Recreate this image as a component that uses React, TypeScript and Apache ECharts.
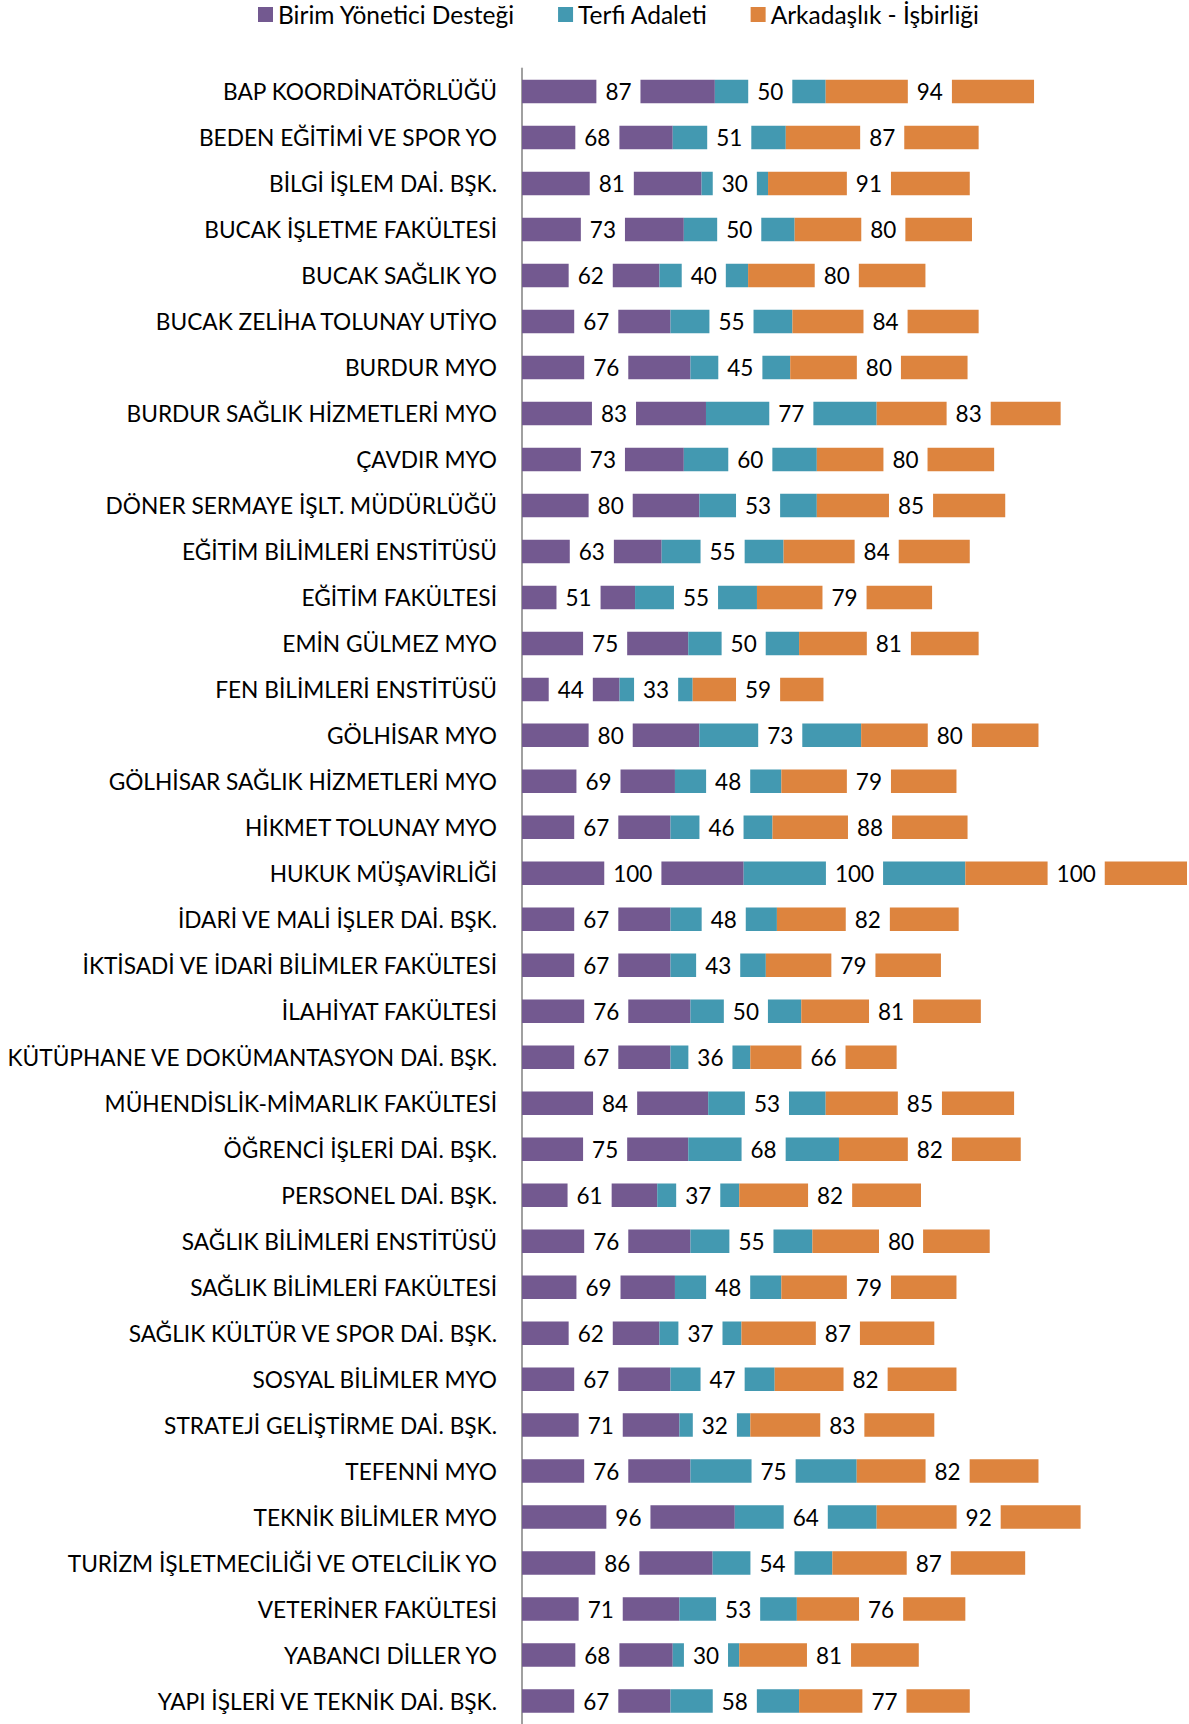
import React, { useEffect, useRef } from "react";
import * as echarts from "echarts";

const categories = [
  "BAP KOORDİNATÖRLÜĞÜ",
  "BEDEN EĞİTİMİ VE SPOR YO",
  "BİLGİ İŞLEM DAİ. BŞK.",
  "BUCAK İŞLETME FAKÜLTESİ",
  "BUCAK SAĞLIK YO",
  "BUCAK ZELİHA TOLUNAY UTİYO",
  "BURDUR MYO",
  "BURDUR SAĞLIK HİZMETLERİ MYO",
  "ÇAVDIR MYO",
  "DÖNER SERMAYE İŞLT. MÜDÜRLÜĞÜ",
  "EĞİTİM BİLİMLERİ ENSTİTÜSÜ",
  "EĞİTİM FAKÜLTESİ",
  "EMİN GÜLMEZ MYO",
  "FEN BİLİMLERİ ENSTİTÜSÜ",
  "GÖLHİSAR MYO",
  "GÖLHİSAR SAĞLIK HİZMETLERİ MYO",
  "HİKMET TOLUNAY MYO",
  "HUKUK MÜŞAVİRLİĞİ",
  "İDARİ VE MALİ İŞLER DAİ. BŞK.",
  "İKTİSADİ VE İDARİ BİLİMLER FAKÜLTESİ",
  "İLAHİYAT FAKÜLTESİ",
  "KÜTÜPHANE VE DOKÜMANTASYON DAİ. BŞK.",
  "MÜHENDİSLİK-MİMARLIK FAKÜLTESİ",
  "ÖĞRENCİ İŞLERİ DAİ. BŞK.",
  "PERSONEL DAİ. BŞK.",
  "SAĞLIK BİLİMLERİ ENSTİTÜSÜ",
  "SAĞLIK BİLİMLERİ FAKÜLTESİ",
  "SAĞLIK KÜLTÜR VE SPOR DAİ. BŞK.",
  "SOSYAL BİLİMLER MYO",
  "STRATEJİ GELİŞTİRME DAİ. BŞK.",
  "TEFENNİ MYO",
  "TEKNİK BİLİMLER MYO",
  "TURİZM İŞLETMECİLİĞİ VE OTELCİLİK YO",
  "VETERİNER FAKÜLTESİ",
  "YABANCI DİLLER YO",
  "YAPI İŞLERİ VE TEKNİK DAİ. BŞK.",
];

const birimYoneticiDestegi = [
  87, 68, 81, 73, 62, 67, 76, 83, 73, 80, 63, 51, 75, 44, 80, 69, 67, 100,
  67, 67, 76, 67, 84, 75, 61, 76, 69, 62, 67, 71, 76, 96, 86, 71, 68, 67,
];

const terfiAdaleti = [
  50, 51, 30, 50, 40, 55, 45, 77, 60, 53, 55, 55, 50, 33, 73, 48, 46, 100,
  48, 43, 50, 36, 53, 68, 37, 55, 48, 37, 47, 32, 75, 64, 54, 53, 30, 58,
];

const arkadaslikIsbirligi = [
  94, 87, 91, 80, 80, 84, 80, 83, 80, 85, 84, 79, 81, 59, 80, 79, 88, 100,
  82, 79, 81, 66, 85, 82, 82, 80, 79, 87, 82, 83, 82, 92, 87, 76, 81, 77,
];

const seriesNames = [
  "Birim Yönetici Desteği",
  "Terfi Adaleti",
  "Arkadaşlık - İşbirliği",
];

const colors = ["#735990", "#4399B1", "#DD843E"];

const FONT = "Lato, 'Open Sans', sans-serif";

export default function App() {
  const ref = useRef<HTMLDivElement>(null);

  useEffect(() => {
    if (!ref.current) return;
    const chart = echarts.init(ref.current, null, { renderer: "svg" });
    const seriesData = [birimYoneticiDestegi, terfiAdaleti, arkadaslikIsbirligi];
    chart.setOption({
      animation: false,
      color: colors,
      textStyle: { fontFamily: FONT },
      legend: {
        left: 253,
        top: -3,
        icon: "rect",
        itemWidth: 15,
        itemHeight: 15,
        itemGap: 43,
        textStyle: { fontSize: 24.5, color: "#000", fontFamily: FONT },
        data: seriesNames,
      },
      grid: {
        left: 522,
        top: 68.6,
        width: 665,
        height: 1661,
        containLabel: false,
      },
      xAxis: {
        type: "value",
        min: 0,
        max: 300,
        show: false,
      },
      yAxis: {
        type: "category",
        inverse: true,
        data: categories,
        axisTick: { show: false },
        axisLine: { show: true, lineStyle: { color: "#A0A0A0", width: 2 } },
        axisLabel: {
          fontSize: 22.7,
          color: "#000",
          margin: 25,
          fontFamily: FONT,
        },
        splitLine: { show: false },
      },
      series: seriesNames.map((name, i) => ({
        name,
        type: "bar",
        stack: "total",
        barWidth: 23.5,
        data: seriesData[i],
        itemStyle: { color: colors[i] },
        label: {
          show: true,
          position: "inside",
          formatter: "{c}",
          fontSize: 22.5,
          color: "#000",
          fontFamily: FONT,
          backgroundColor: "#fff",
          padding: [4, 9, 4, 9],
        },
      })),
    });
    return () => chart.dispose();
  }, []);

  return (
    <div
      ref={ref}
      style={{ position: "absolute", left: 0, top: 0, width: 1189, height: 1724 }}
    />
  );
}
